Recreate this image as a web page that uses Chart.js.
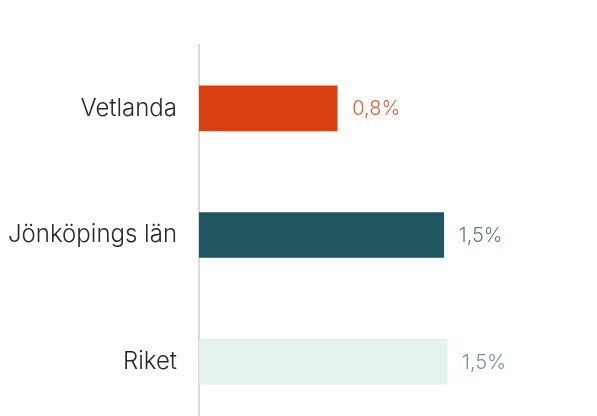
<!DOCTYPE html>
<html>
<head>
<meta charset="utf-8">
<script src="https://cdn.jsdelivr.net/npm/chart.js@4"></script>
<style>
  html, body { margin: 0; padding: 0; background: #fff; overflow: hidden; }
  canvas { display: block; }
</style>
</head>
<body>
<canvas id="barChartCanvas" width="597" height="425"></canvas>
<script>
const categories = ["Vetlanda", "Jönköpings län", "Riket"];
const values = [0.83, 1.47, 1.49];
const barColors = ["#d8400f", "#1f555e", "#e5f3ef"];
const labelColors = ["#e0623b", "#5c8086", "#6c9a98"];

const fmt = (v) => v.toFixed(1).replace(".", ",") + "%";

// draws the value text right of each bar
const valueLabels = {
  id: "valueLabels",
  afterDatasetsDraw(chart) {
    const ctx = chart.ctx;
    const meta = chart.getDatasetMeta(0);
    ctx.save();
    ctx.font = "300 20px Inter";
    ctx.textAlign = "left";
    ctx.textBaseline = "middle";
    meta.data.forEach((bar, i) => {
      ctx.fillStyle = labelColors[i];
      ctx.fillText(fmt(values[i]), bar.x + 15, bar.y + 1);
    });
    ctx.restore();
  },
};

const ctx = document.getElementById("barChartCanvas").getContext("2d");
new Chart(ctx, {
  type: "bar",
  data: {
    labels: categories,
    datasets: [
      {
        data: values,
        backgroundColor: barColors,
        borderWidth: 0,
        barThickness: 45,
      },
    ],
  },
  options: {
    indexAxis: "y",
    responsive: false,
    animation: false,
    layout: { padding: { top: 45, right: 65, bottom: 0, left: 0 } },
    plugins: {
      legend: { display: false },
      tooltip: { enabled: false },
    },
    scales: {
      x: {
        display: false,
        min: 0,
        max: 2,
      },
      y: {
        afterFit: (scale) => {
          scale.width = 199;
          scale.paddingTop = 0;
          scale.paddingBottom = 0;
        },
        grid: { display: false, drawTicks: false },
        border: { display: true, color: "#d9d9d9", width: 2 },
        ticks: {
          padding: 22,
          color: "#2a2a2a",
          font: { family: "Inter", size: 24, weight: "300" },
        },
      },
    },
  },
  plugins: [valueLabels],
});
</script>
</body>
</html>
